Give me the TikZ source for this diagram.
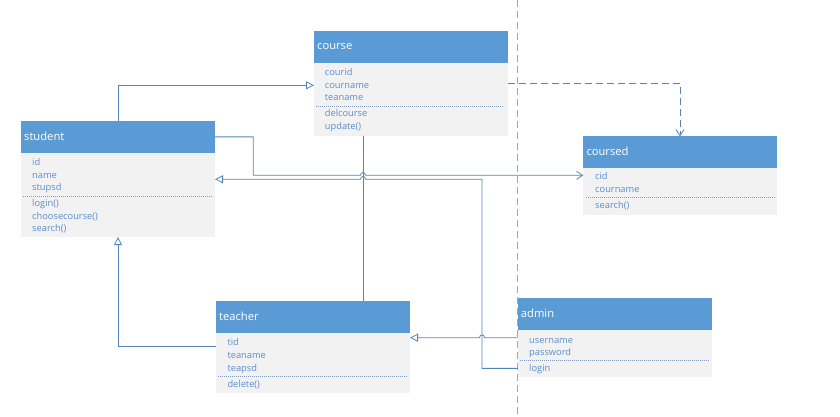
\documentclass[tikz,border=0pt]{standalone}
\usepackage{fontspec}
\setmainfont{Open Sans}
\usetikzlibrary{arrows.meta}
\definecolor{hdr}{HTML}{5B9BD5}
\definecolor{bodyc}{HTML}{F2F2F2}
\definecolor{txt}{HTML}{5A8DCC}
\definecolor{ln}{HTML}{5585B8}
\definecolor{sepc}{HTML}{A6A6A6}
\definecolor{dotc}{HTML}{7F9CBF}
\tikzset{
  hdrbox/.style={fill=hdr, draw=none, anchor=north west, inner sep=0pt, outer sep=0pt},
  bodybox/.style={fill=bodyc, draw=none, anchor=north west, inner sep=0pt, outer sep=0pt},
  titletext/.style={anchor=base west, inner sep=0pt, text=white, font=\fontsize{11.2}{13}\selectfont},
  item/.style={anchor=base west, inner sep=0pt, text=txt, font=\fontsize{9.3}{11}\selectfont},
  dotline/.style={draw=dotc, line width=0.6pt, dash pattern=on 1pt off 1pt},
  conn/.style={draw=ln, line width=0.8pt},
  gen/.style={-{Triangle[open, length=8pt, width=8pt]}},
  dep/.style={-{Straight Barb[length=6pt, width=8pt]}},
  dashline/.style={dash pattern=on 7pt off 4pt},
  sepline/.style={draw=sepc, line width=0.8pt, dash pattern=on 7pt off 4pt},
}
\newcommand\umlcls[7]{%
  \node[hdrbox, minimum width=#4pt, minimum height=#5pt] (#1H) at (#2,#3) {};
  \node[bodybox, minimum width=#4pt, minimum height=#6pt] (#1B) at (#1H.south west) {};
  \node[titletext] (#1T) at ([xshift=3pt,yshift=-19pt]#1H.north west) {#7};
}
\begin{document}
\begin{tikzpicture}[x=1pt, y=-1pt]
\useasboundingbox (0,0) rectangle (840,417);
% separator
\coordinate (septop) at (517.3,0);
\coordinate (sepbot) at (517.3,417);
\draw[sepline] (septop) -- (sepbot);

% classes
\umlcls{student}{21}{121}{194}{31.7}{84.3}{student}
\umlcls{course}{314}{31}{194}{31.7}{73}{course}
\umlcls{coursed}{583.3}{136.3}{193.4}{31.4}{47.3}{coursed}
\umlcls{teacher}{216}{301}{194}{31.7}{60}{teacher}
\umlcls{admin}{517.7}{298.3}{194}{31.7}{46.7}{admin}

% student
\node[item] (sa1) at (32,165.7) {id};
\node[item] (sa2) at (32,178.2) {name};
\node[item] (sa3) at (32,190.7) {stupsd};
\draw[dotline] (23,196) -- (212,196);
\node[item] (sm1) at (32,206) {login()};
\node[item] (sm2) at (32,219) {choosecourse()};
\node[item] (sm3) at (32,231.7) {search()};
% course
\node[item] (ca1) at (324.7,75.7) {courid};
\node[item] (ca2) at (324.7,88.3) {courname};
\node[item] (ca3) at (324.7,101) {teaname};
\draw[dotline] (316,106.7) -- (504,106.7);
\node[item] (cm1) at (324.7,116.7) {delcourse};
\node[item] (cm2) at (324.7,130) {update()};
% coursed
\node[item] (da1) at (595,179.7) {cid};
\node[item] (da2) at (595,192.7) {courname};
\draw[dotline] (586,197.7) -- (775,197.7);
\node[item] (dm1) at (595,208.7) {search()};
% teacher
\node[item] (ta1) at (227.3,345.7) {tid};
\node[item] (ta2) at (227.3,358.2) {teaname};
\node[item] (ta3) at (227.3,371) {teapsd};
\draw[dotline] (218,376.7) -- (407,376.7);
\node[item] (tm1) at (227.3,387) {delete()};
% admin
\node[item] (aa1) at (529,343) {username};
\node[item] (aa2) at (529,355) {password};
\draw[dotline] (520,360.7) -- (709,360.7);
\node[item] (am1) at (529,371) {login};

% connectors
\draw[conn, gen] (studentH.north) |- ([yshift=13.9pt]courseB.west);
\draw[conn] ([xshift=-48pt]courseB.south) -- ([xshift=50pt]teacherH.north);
\draw[conn, dep] (studentH.east) -| (253.3,175.3) -- (360.5,175.3)
  .. controls (360.5,171.6) and (365.5,171.6) .. (365.5,175.3)
  -- ([yshift=16.05pt]coursedB.west);
\draw[conn, gen] ([yshift=16pt]teacherB.west) -| (studentB.south);
\draw[conn, gen] ([yshift=-15pt]adminB.west) -| (482,179.3) -- (365.5,179.3)
  .. controls (365.5,175.6) and (360.5,175.6) .. (360.5,179.3)
  -- ([yshift=15.55pt]studentB.east);
\draw[conn, gen] ([yshift=15.65pt]adminB.west) -- (484.5,337.7)
  .. controls (484.5,334) and (479.5,334) .. (479.5,337.7)
  -- ([yshift=25pt]teacherB.east);
\draw[conn, dep, dashline] ([yshift=15.9pt]courseB.east) -| (coursedH.north);
\end{tikzpicture}
\end{document}
